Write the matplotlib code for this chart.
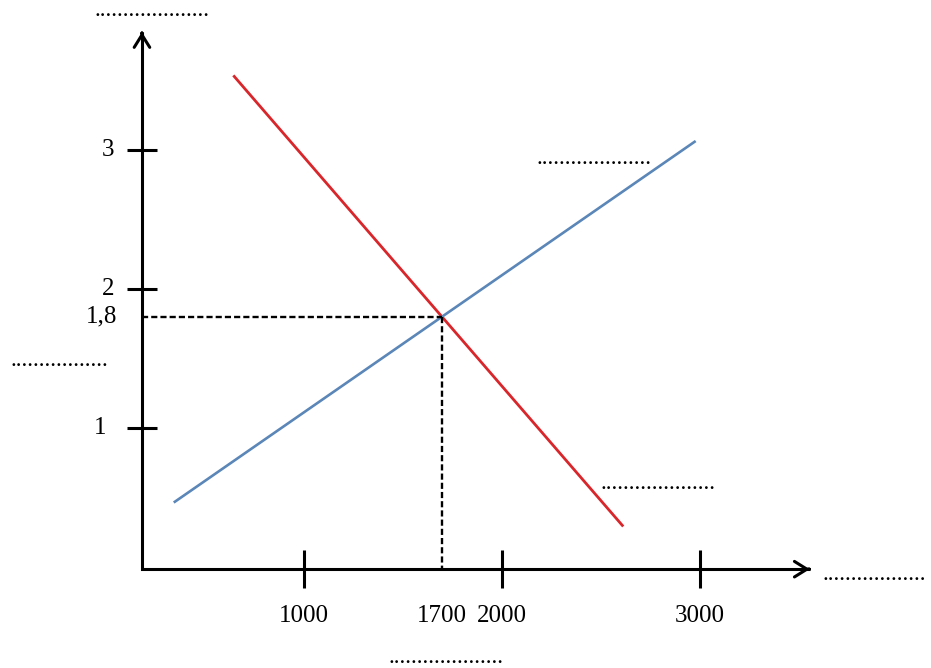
import matplotlib.pyplot as plt

# supply / demand sketch
x_ticks = [1000, 2000, 3000]
y_ticks = [1, 2, 3]
eq_q = 1700
eq_p = 1.8

demand_q = [650, 2610]
demand_p = [3.53, 0.30]
supply_q = [350, 2975]
supply_p = [0.47, 3.06]

# where the axes cross and where the arrows end
x0, y0 = 184, -0.015
x_end, y_end = 3557, 3.85

W, H = 931, 668
plt.rcParams['font.family'] = ['Liberation Serif', 'DejaVu Serif']

fig = plt.figure(figsize=(W / 100, H / 100), dpi=100)
ax = fig.add_axes([0, 0, 1, 1])
ax.set_xlim(-533, 4169)
ax.set_ylim(-0.726, 4.080)
ax.axis('off')

# axes as one L-shaped line, arrow heads added at the ends
ax.plot([x0, x0, x_end], [y_end, y0, y0], color='black', lw=2.2,
        solid_joinstyle='miter', solid_capstyle='butt')
arrow = dict(arrowstyle='->,head_length=0.45,head_width=0.28', color='black',
             lw=2.2, mutation_scale=20, shrinkA=0, shrinkB=0)
ax.annotate('', xy=(x0, y_end), xytext=(x0, y_end - 0.01), arrowprops=arrow)
ax.annotate('', xy=(x_end, y0), xytext=(x_end - 5, y0), arrowprops=arrow)

# tick marks crossing the axes
ax.plot(x_ticks, [y0] * len(x_ticks), ls='none', marker='|', ms=28, mew=2.2, color='black')
ax.plot([x0] * len(y_ticks), y_ticks, ls='none', marker='_', ms=22, mew=2.2, color='black')

# demand and supply
ax.plot(demand_q, demand_p, color='#d8262b', lw=2.0)
ax.plot(supply_q, supply_p, color='#5b86b8', lw=1.9)

# equilibrium guides
ax.plot([x0, eq_q], [eq_p, eq_p], color='black', lw=1.7, dashes=(2.6, 1.3))
ax.plot([eq_q, eq_q], [eq_p, y0], color='black', lw=1.7, dashes=(2.6, 1.3))

# tick labels
fs = 18
for v in x_ticks + [eq_q]:
    ax.text(v, -0.35, str(v), ha='center', va='center', fontsize=fs)

y_lab_x = 1925 + (114 - 486.75) / 0.198
for v in y_ticks:
    nudge = -40 if v == 1 else 0
    ax.text(y_lab_x + nudge, v, str(v), ha='right', va='center', fontsize=fs)
ax.text(y_lab_x + 15, eq_p, '1,8', ha='right', va='center', fontsize=fs)

# blank answer fields
fields = [(95, 16.5, 20), (10, 365.5, 17), (537, 164, 20),
          (600, 489, 20), (822, 580, 18), (388, 663, 20)]
for px, py, n in fields:
    fig.text(px / W, 1 - py / H, '.' * n, ha='left', va='baseline', fontsize=fs - 1)

fig.savefig('out.png', dpi=100)
